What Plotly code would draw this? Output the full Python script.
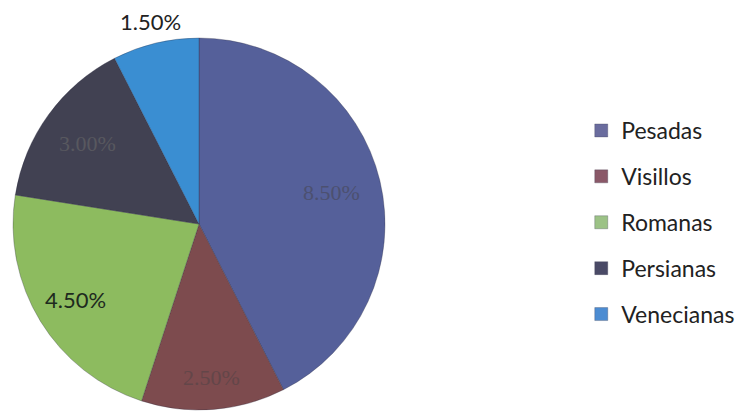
import math
import plotly.graph_objects as go

categories = ["Pesadas", "Visillos", "Romanas", "Persianas", "Venecianas"]
values = [8.5, 2.5, 4.5, 3.0, 1.5]
labels_text = ["8.50%", "2.50%", "4.50%", "3.00%", "1.50%"]
colors = ["#55609A", "#7D4B4E", "#8DBB5F", "#414152", "#3A8ED2"]
legend_colors = ["#6A6C9E", "#8A5868", "#9CC286", "#4A4A66", "#4C8CD2"]
text_colors = ["#4C5070", "#634649", "#1E2A1E", "#58585F", "#222222"]
text_fonts = ["Liberation Serif", "Liberation Serif", "Lato", "Liberation Serif", "Lato"]
text_radius = [0.73, 0.83, 0.78, 0.74, 1.12]

W, H = 750, 413
dom_x = [10 / W, 388 / W]
dom_y = [1 - 410 / H, 1 - 38 / H]

fig = go.Figure()
fig.add_trace(go.Pie(
    labels=categories, values=values, textinfo="none",
    sort=False, direction="clockwise", rotation=0,
    marker=dict(colors=colors, line=dict(color="rgba(40,40,60,0.5)", width=0.6)),
    domain=dict(x=dom_x, y=dom_y),
    showlegend=False, hoverinfo="label+percent",
))

# data labels placed along each slice's mid-angle (derived from the values)
cx_px = (dom_x[0] + dom_x[1]) / 2 * W
cy_px = (1 - (dom_y[0] + dom_y[1]) / 2) * H
r_px = min((dom_x[1] - dom_x[0]) * W, (dom_y[1] - dom_y[0]) * H) / 2
total = sum(values)
cum = 0.0
for i, v in enumerate(values):
    mid = (cum + v / 2) / total * 2 * math.pi
    cum += v
    px = cx_px + text_radius[i] * r_px * math.sin(mid)
    py = cy_px - text_radius[i] * r_px * math.cos(mid)
    fig.add_annotation(
        x=px / W, y=1 - py / H, xref="paper", yref="paper",
        text=labels_text[i], showarrow=False, xanchor="center", yanchor="middle",
        font=dict(family=text_fonts[i], size=22, color=text_colors[i]),
    )

for i, c in enumerate(categories):
    fig.add_trace(go.Scatter(
        x=[None], y=[None], mode="markers", name=c, legendgroup=c,
        marker=dict(symbol="square", size=13, color=legend_colors[i],
                    line=dict(color="rgba(60,60,80,0.6)", width=0.5)),
    ))

fig.update_layout(
    width=W, height=H, margin=dict(l=0, r=0, t=0, b=0),
    paper_bgcolor="white", plot_bgcolor="white",
    xaxis=dict(visible=False), yaxis=dict(visible=False),
    legend=dict(x=0.775, y=1 - 222.5 / H, xanchor="left", yanchor="middle",
                font=dict(family="Lato", size=23, color="#222222"),
                tracegroupgap=13, itemwidth=30, bgcolor="rgba(0,0,0,0)"),
)
fig.write_html("out.html")
